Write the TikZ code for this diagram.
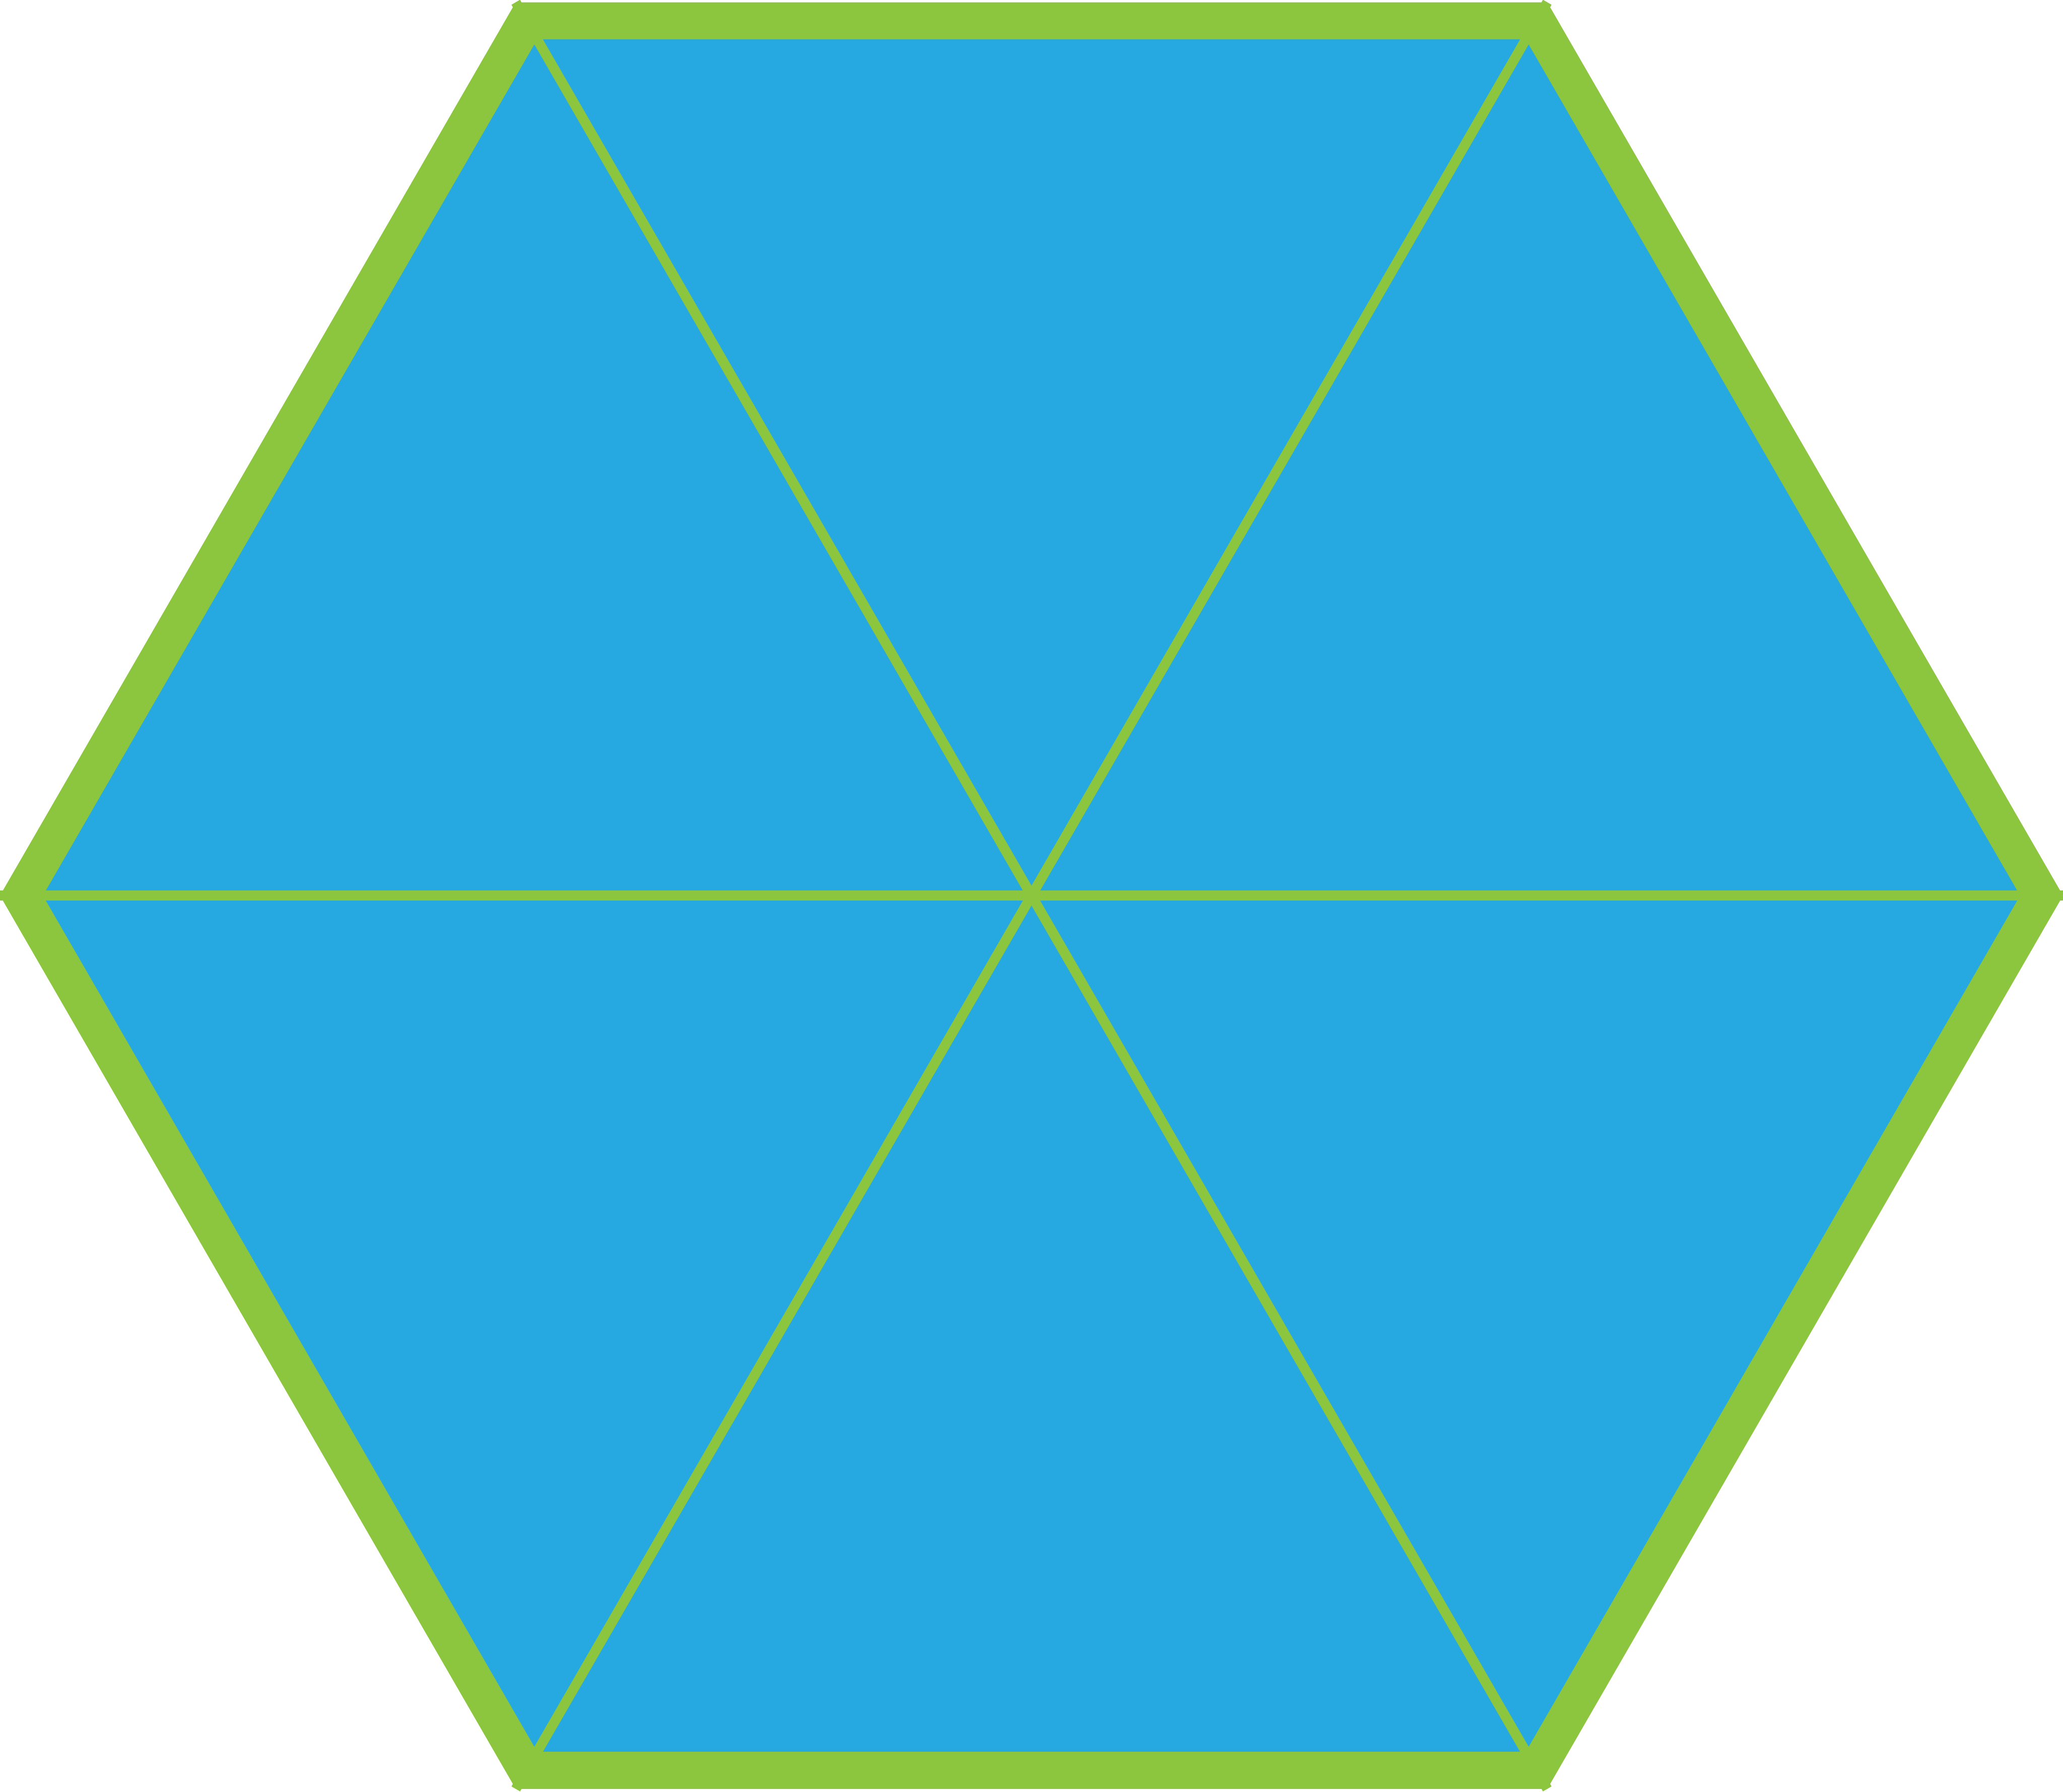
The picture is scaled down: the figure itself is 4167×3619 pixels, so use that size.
\documentclass[tikz,border=0pt]{standalone}
\usetikzlibrary{calc}
\definecolor{hexblue}{RGB}{37,169,224}
\definecolor{hexgreen}{RGB}{140,198,63}
\tikzset{
  rim/.style={draw=hexgreen, line width=7.5pt, line join=miter, fill=hexblue},
  spoke/.style={draw=hexgreen, line width=2pt, line cap=butt}
}
\begin{document}
\begin{tikzpicture}[x=0.1pt,y=0.1pt]
\useasboundingbox (0,0) rectangle (4167,3619);
\coordinate (c) at (2083.5,1810);
% outer vertices (circumradius 2083.5)
\foreach \a/\n in {0/v0,60/v1,120/v2,180/v3,240/v4,300/v5}
  \coordinate (\n) at ($(c)+(\a:2083.5)$);
% rim centre-line vertices (circumradius 2040.2)
\foreach \a/\n in {0/r0,60/r1,120/r2,180/r3,240/r4,300/r5}
  \coordinate (\n) at ($(c)+(\a:2040.2)$);
\draw[rim] (r0) -- (r1) -- (r2) -- (r3) -- (r4) -- (r5) -- cycle;
\draw[spoke] (v0) -- (v3);
\draw[spoke] (v1) -- (v4);
\draw[spoke] (v2) -- (v5);
\end{tikzpicture}
\end{document}
